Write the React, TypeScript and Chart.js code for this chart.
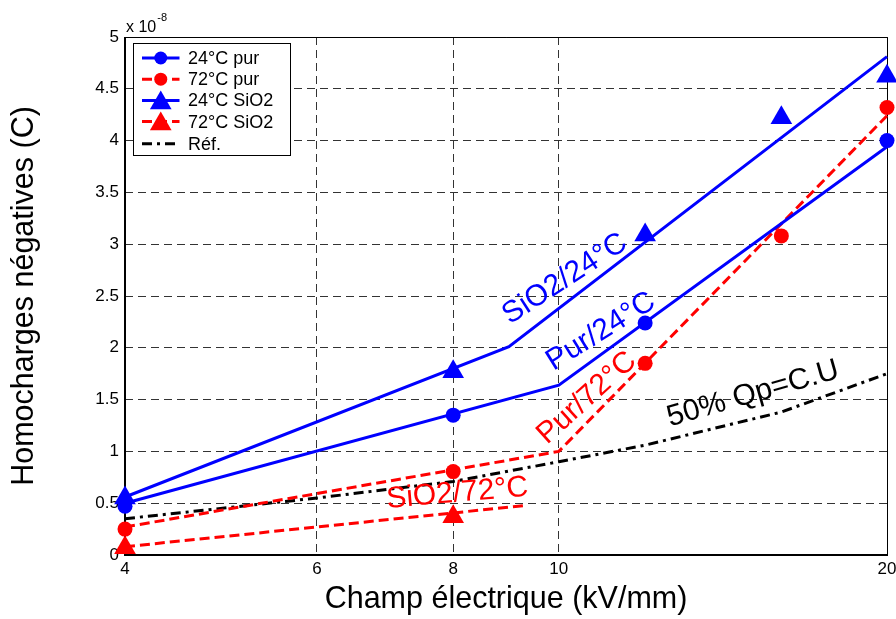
import React, { useEffect, useRef } from "react";
import { Chart, registerables } from "chart.js";

Chart.register(...registerables);

// ---- axis ticks ----
const xTickValues = [4, 6, 8, 10, 20];
const yMin = 0;
const yMax = 5;
const yStep = 0.5;

// ---- measured points (x in kV/mm, y in 1e-8 C) ----
const pur24X = [4, 8, 12, 20];
const pur24Y = [0.47, 1.35, 2.24, 4.0];
const pur72X = [4, 8, 12, 16, 20];
const pur72Y = [0.25, 0.805, 1.85, 3.08, 4.32];
const sio24X = [4, 8, 12, 16, 20];
const sio24Y = [0.55, 1.77, 3.09, 4.22, 4.62];
const sio72X = [4, 8];
const sio72Y = [0.07, 0.37];

// ---- fitted trend lines ----
const fitSio24X = [4, 9, 20];
const fitSio24Y = [0.56, 2.01, 4.81];
const fitPur24X = [4, 10, 20];
const fitPur24Y = [0.5, 1.64, 3.94];
const fitPur72X = [4, 10, 20];
const fitPur72Y = [0.27, 1.0, 4.24];
const fitSio72X = [4, 9.36];
const fitSio72Y = [0.08, 0.48];
const refX = [4, 6, 8, 10, 12, 16, 20];
const refY = [0.35, 0.55, 0.71, 0.9, 1.06, 1.38, 1.75];

// ---- in-plot annotations (anchor = text centre, data coords) ----
const noteTexts = ["SiO2/24°C", "Pur/24°C", "Pur/72°C", "50% Qp=C.U", "SiO2/72°C"];
const noteX = [10.13, 10.93, 10.61, 15.07, 8.07];
const noteY = [2.664, 2.157, 1.515, 1.554, 0.594];
const noteAngle = [-33, -32, -42, -16, -5];

// ---- legend ----
const legendLabels = ["24°C pur", "72°C pur", "24°C SiO2", "72°C SiO2", "Réf."];

const BLUE = "#0000ff";
const RED = "#ff0000";
const BLACK = "#000000";
const noteColors = [BLUE, BLUE, RED, BLACK, RED];
const legendColors = [BLUE, RED, BLUE, RED, BLACK];
const legendMarkers = ["circle", "circle", "triangle", "triangle", "none"];
const legendDash: number[][] = [[], [10, 5], [], [10, 5], [10, 5, 3, 5]];

const FONT = "'Liberation Sans', Arial, Helvetica, sans-serif";
const DASH_RED = [10, 5];
const DASH_DOT = [10, 5, 3, 5];
const GRID_DASH = [8, 5];

const pts = (xs: number[], ys: number[]) => xs.map((x, i) => ({ x, y: ys[i] }));

function drawMarker(ctx: CanvasRenderingContext2D, kind: string, x: number, y: number, r: number, color: string) {
  ctx.save();
  ctx.setLineDash([]);
  ctx.fillStyle = color;
  ctx.strokeStyle = color;
  ctx.beginPath();
  if (kind === "circle") {
    ctx.arc(x, y, r, 0, Math.PI * 2);
  } else if (kind === "triangle") {
    let rad = 0;
    ctx.moveTo(x + Math.sin(rad) * r, y - Math.cos(rad) * r);
    rad += (2 * Math.PI) / 3;
    ctx.lineTo(x + Math.sin(rad) * r, y - Math.cos(rad) * r);
    rad += (2 * Math.PI) / 3;
    ctx.lineTo(x + Math.sin(rad) * r, y - Math.cos(rad) * r);
    ctx.closePath();
  }
  ctx.fill();
  ctx.restore();
}

const overlayPlugin = {
  id: "overlay",
  beforeDatasetsDraw(chart: any) {
    const { ctx, chartArea: a } = chart;
    ctx.save();
    ctx.setLineDash([]);
    ctx.strokeStyle = "#000";
    ctx.lineWidth = 1;
    ctx.beginPath();
    ctx.moveTo(a.left, a.top + 0.5);
    ctx.lineTo(a.right + 0.5, a.top + 0.5);
    ctx.lineTo(a.right + 0.5, a.bottom);
    ctx.stroke();
    ctx.lineWidth = 2;
    ctx.beginPath();
    ctx.moveTo(a.left, a.top);
    ctx.lineTo(a.left, a.bottom);
    ctx.lineTo(a.right + 1, a.bottom);
    ctx.stroke();
    ctx.restore();
  },
  afterDatasetsDraw(chart: any) {
    const { ctx, chartArea: a, scales } = chart;
    const xs = scales.x;
    const ys = scales.y;
    ctx.save();
    // annotations
    ctx.font = `30px ${FONT}`;
    ctx.textAlign = "center";
    ctx.textBaseline = "middle";
    noteTexts.forEach((t, i) => {
      const px = xs.getPixelForValue(noteX[i]);
      const py = ys.getPixelForValue(noteY[i]);
      ctx.save();
      ctx.translate(px, py);
      ctx.rotate((noteAngle[i] * Math.PI) / 180);
      ctx.fillStyle = noteColors[i];
      ctx.fillText(t, 0, 0);
      ctx.restore();
    });

    // exponent label
    ctx.textAlign = "left";
    ctx.textBaseline = "alphabetic";
    ctx.fillStyle = "#000";
    ctx.font = `16px ${FONT}`;
    ctx.fillText("x 10", a.left + 1, a.top - 5);
    const w = ctx.measureText("x 10").width;
    ctx.font = `11px ${FONT}`;
    ctx.fillText("-8", a.left + 2 + w, a.top - 16);

    // legend
    const lx = a.left + 8.5;
    const ly = a.top + 6.5;
    const lw = 157;
    const lh = 112;
    ctx.fillStyle = "#fff";
    ctx.fillRect(lx, ly, lw, lh);
    ctx.strokeStyle = "#000";
    ctx.lineWidth = 1;
    ctx.setLineDash([]);
    ctx.strokeRect(lx, ly, lw, lh);
    ctx.font = `18px ${FONT}`;
    ctx.textBaseline = "middle";
    legendLabels.forEach((lab, i) => {
      const cy = ly + 14.5 + i * 21.2 + (i === 4 ? 1 : 0);
      const x0 = lx + 8.5;
      const x1 = lx + (i === 4 ? 43 : 46);
      ctx.save();
      ctx.strokeStyle = legendColors[i];
      ctx.lineWidth = 3;
      ctx.setLineDash(legendDash[i]);
      ctx.beginPath();
      ctx.moveTo(x0, cy);
      ctx.lineTo(x1, cy);
      ctx.stroke();
      ctx.restore();
      const mk = legendMarkers[i];
      if (mk === "circle") drawMarker(ctx, "circle", (x0 + x1) / 2, cy, 6.5, legendColors[i]);
      if (mk === "triangle") drawMarker(ctx, "triangle", (x0 + x1) / 2, cy + 2.5, 12.5, legendColors[i]);
      ctx.fillStyle = "#000";
      ctx.fillText(lab, lx + 54.5, cy + 1);
    });
    ctx.restore();
  },
};

export default function App() {
  const ref = useRef<HTMLCanvasElement | null>(null);

  useEffect(() => {
    if (!ref.current) return;
    const lineDs = (label: string, xs: number[], ys: number[], color: string, dash: number[]) => ({
      label,
      data: pts(xs, ys),
      borderColor: color,
      backgroundColor: color,
      borderWidth: 3,
      borderDash: dash,
      pointRadius: 0,
      showLine: true,
      fill: false,
      tension: 0,
      clip: false as any,
    });
    const markerDs = (label: string, xs: number[], ys: number[], color: string, style: string, r: number) => ({
      label,
      data: pts(xs, ys),
      borderColor: color,
      backgroundColor: color,
      pointStyle: style,
      pointRadius: r,
      pointBorderWidth: 0,
      showLine: false,
      clip: false as any,
    });

    const chart = new Chart(ref.current, {
      type: "line",
      data: {
        datasets: [
          markerDs("24°C pur", pur24X, pur24Y, BLUE, "circle", 7.5),
          markerDs("72°C pur", pur72X, pur72Y, RED, "circle", 7.5),
          markerDs("24°C SiO2", sio24X, sio24Y, BLUE, "triangle", 12.5),
          markerDs("72°C SiO2", sio72X, sio72Y, RED, "triangle", 12.5),
          lineDs("SiO2/24°C", fitSio24X, fitSio24Y, BLUE, []),
          lineDs("Pur/24°C", fitPur24X, fitPur24Y, BLUE, []),
          lineDs("Pur/72°C", fitPur72X, fitPur72Y, RED, DASH_RED),
          lineDs("SiO2/72°C", fitSio72X, fitSio72Y, RED, DASH_RED),
          lineDs("Réf.", refX, refY, BLACK, DASH_DOT),
        ] as any,
      },
      options: {
        animation: false,
        responsive: false,
        devicePixelRatio: 1,
        layout: { autoPadding: false, padding: { top: 37, right: 9, left: 0, bottom: 0 } },
        plugins: { legend: { display: false }, tooltip: { enabled: false } },
        scales: {
          x: {
            type: "logarithmic",
            min: 4,
            max: 20,
            afterBuildTicks: (s: any) => {
              s.ticks = xTickValues.map((v) => ({ value: v }));
            },
            afterFit: (s: any) => {
              s.height = 64;
              s.paddingLeft = 0;
              s.paddingRight = 0;
            },
            ticks: {
              callback: (v: any) => String(v),
              color: "#000",
              font: { family: FONT, size: 17 },
              padding: 4,
              maxRotation: 0,
              autoSkip: false,
            },
            grid: { color: "#333", lineWidth: 1, drawTicks: false },
            border: { display: false, dash: GRID_DASH },
            title: {
              display: true,
              text: "Champ électrique (kV/mm)",
              color: "#000",
              font: { family: FONT, size: 30.5, lineHeight: 1.2 },
              padding: { top: 0, bottom: 1.5 },
            },
          },
          y: {
            type: "linear",
            min: yMin,
            max: yMax,
            afterFit: (s: any) => {
              s.width = 125;
              s.paddingTop = 0;
              s.paddingBottom = 0;
            },
            ticks: {
              stepSize: yStep,
              callback: (v: any) => String(v),
              color: "#000",
              font: { family: FONT, size: 17 },
              padding: 6,
            },
            grid: { color: "#333", lineWidth: 1, drawTicks: false },
            border: { display: false, dash: GRID_DASH },
            title: {
              display: true,
              text: "Homocharges négatives (C)",
              color: "#000",
              font: { family: FONT, size: 30.5, lineHeight: 1.2 },
              padding: { top: 6, bottom: 0 },
            },
          },
        },
      } as any,
      plugins: [overlayPlugin],
    });
    return () => chart.destroy();
  }, []);

  return (
    <div style={{ position: "fixed", left: 0, top: 0, width: 896, height: 619, background: "#fff" }}>
      <canvas ref={ref} width={896} height={619} style={{ display: "block" }} />
    </div>
  );
}
